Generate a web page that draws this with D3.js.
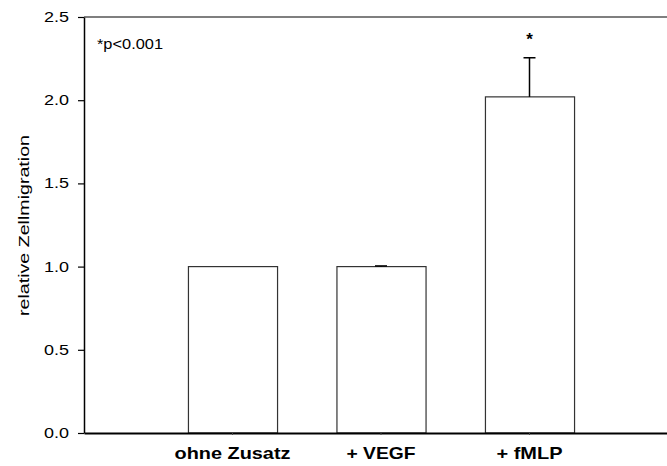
<!DOCTYPE html>
<meta charset="utf-8">
<html>
<head>
<title>relative Zellmigration</title>
<script src="https://d3js.org/d3.v7.min.js"></script>
<style>
body { margin: 0; background: #fff; }
text { font-family: Arial, "Liberation Sans", sans-serif; fill: #000; }
</style>
</head>
<body>
<div id="chart"></div>
<script>

// data
var categories = ["ohne Zusatz", "+ VEGF", "+ fMLP"];
var means = [1.0, 1.0, 2.02];
var errors = [0, 0.004, 0.235];
var yTicks = [0, 0.5, 1.0, 1.5, 2.0, 2.5];
var labelLengths = [116, 69, 66];

var W = 667, H = 466;
var plotLeft = 84, plotRight = 678, plotTop = 17, plotBottom = 433;

var svg = d3.select("#chart").append("svg")
  .attr("width", W)
  .attr("height", H);

var x = d3.scaleBand()
  .domain(categories)
  .range([plotLeft, plotRight])
  .paddingInner(0.4)
  .paddingOuter(0.7);

var y = d3.scaleLinear()
  .domain([0, 2.5])
  .range([plotBottom, plotTop]);

// top frame line
svg.append("line")
  .attr("x1", plotLeft).attr("x2", W)
  .attr("y1", y(2.5)).attr("y2", y(2.5))
  .attr("stroke", "#555").attr("stroke-width", 1.5);

// bars
svg.selectAll("rect.bar")
  .data(categories)
  .enter().append("rect")
    .attr("class", "bar")
    .attr("x", function(d) { return x(d) + 0.5; })
    .attr("y", function(d, i) { return y(means[i]); })
    .attr("width", x.bandwidth())
    .attr("height", function(d, i) { return y(0) - y(means[i]); })
    .attr("fill", "#fff")
    .attr("stroke", "#333")
    .attr("stroke-width", 1.2);

// error bars (upper only)
var eb = svg.selectAll("g.err")
  .data(categories.filter(function(d, i) { return errors[i] > 0; }))
  .enter().append("g").attr("class", "err");
eb.append("line")
  .attr("x1", function(d) { return x(d) + x.bandwidth() / 2; })
  .attr("x2", function(d) { return x(d) + x.bandwidth() / 2; })
  .attr("y1", function(d) { var i = categories.indexOf(d); return y(means[i]); })
  .attr("y2", function(d) { var i = categories.indexOf(d); return y(means[i] + errors[i]); })
  .attr("stroke", "#000").attr("stroke-width", 1.5);
eb.append("line")
  .attr("x1", function(d) { return x(d) + x.bandwidth() / 2 - 6; })
  .attr("x2", function(d) { return x(d) + x.bandwidth() / 2 + 6; })
  .attr("y1", function(d) { var i = categories.indexOf(d); return y(means[i] + errors[i]); })
  .attr("y2", function(d) { var i = categories.indexOf(d); return y(means[i] + errors[i]); })
  .attr("stroke", "#000").attr("stroke-width", 1.5);

// significance star
svg.append("text")
  .attr("x", x("+ fMLP") + x.bandwidth() / 2)
  .attr("y", 45)
  .attr("text-anchor", "middle")
  .style("font-size", "17px")
  .style("font-weight", "bold")
  .text("*");

// Y axis
var yAxis = svg.append("g")
  .attr("transform", "translate(" + plotLeft + ",0)")
  .call(d3.axisLeft(y).tickValues(yTicks).tickFormat(d3.format(".1f")).tickSize(6).tickPadding(9).tickSizeOuter(0));
yAxis.select(".domain").attr("stroke", "#000").attr("stroke-width", 1.5);
yAxis.selectAll(".tick line").attr("stroke", "#000").attr("stroke-width", 1.2);
yAxis.selectAll(".tick text")
  .style("font-size", "14px")
  .attr("textLength", 25)
  .attr("lengthAdjust", "spacingAndGlyphs");

// X axis
var xAxis = svg.append("g")
  .attr("transform", "translate(0," + plotBottom + ")")
  .call(d3.axisBottom(x).tickSize(2).tickSizeOuter(0).tickFormat(""));
xAxis.select(".domain").attr("stroke", "#000").attr("stroke-width", 1.8);
xAxis.selectAll(".tick line").attr("stroke", "#444");

// category labels
svg.selectAll("text.cat")
  .data(categories)
  .enter().append("text")
    .attr("class", "cat")
    .attr("x", function(d) { return x(d) + x.bandwidth() / 2; })
    .attr("y", 459)
    .attr("text-anchor", "middle")
    .attr("textLength", function(d, i) { return labelLengths[i]; })
    .attr("lengthAdjust", "spacingAndGlyphs")
    .style("font-size", "17px")
    .style("font-weight", "bold")
    .text(function(d) { return d; });

// y title
svg.append("text")
  .attr("transform", "translate(28.5," + 225.5 + ") rotate(-90)")
  .attr("text-anchor", "middle")
  .attr("textLength", 181)
  .attr("lengthAdjust", "spacingAndGlyphs")
  .style("font-size", "15px")
  .text("relative Zellmigration");

// p value note
svg.append("text")
  .attr("x", 97)
  .attr("y", 49)
  .attr("textLength", 66)
  .attr("lengthAdjust", "spacingAndGlyphs")
  .style("font-size", "14px")
  .text("*p<0.001");

</script>
</body>
</html>
